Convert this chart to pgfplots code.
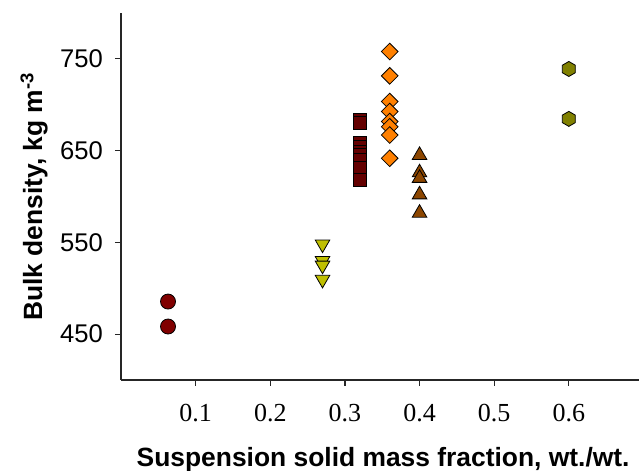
\documentclass[border=0pt]{standalone}
\usepackage{fontspec}
\setmainfont{Liberation Sans}
\newfontfamily\timesfont{Liberation Serif}
\usepackage{pgfplots}
\pgfplotsset{compat=1.18}
\definecolor{cCirc}{HTML}{800000}
\definecolor{cSq}{HTML}{640000}
\definecolor{cDown}{HTML}{BFBF00}
\definecolor{cDiam}{HTML}{FF8000}
\definecolor{cUp}{HTML}{8C4600}
\definecolor{cHex}{HTML}{808000}
\pgfdeclareplotmark{hexagon*}{%
  \pgfpathmoveto{\pgfqpointpolar{90}{\pgfplotmarksize}}%
  \pgfpathlineto{\pgfqpointpolar{150}{\pgfplotmarksize}}%
  \pgfpathlineto{\pgfqpointpolar{210}{\pgfplotmarksize}}%
  \pgfpathlineto{\pgfqpointpolar{270}{\pgfplotmarksize}}%
  \pgfpathlineto{\pgfqpointpolar{330}{\pgfplotmarksize}}%
  \pgfpathlineto{\pgfqpointpolar{30}{\pgfplotmarksize}}%
  \pgfpathclose
  \pgfusepathqfillstroke
}
\begin{document}
\begin{tikzpicture}
\useasboundingbox (-60.5pt,-45.5pt) rectangle (259pt,190pt);
\begin{axis}[
  at={(0,0)}, anchor=south west,
  scale only axis, width=259pt, height=183.5pt,
  xmin=0, xmax=0.694, ymin=400, ymax=800,
  axis lines=left,
  axis line style={-, black!85, line width=0.7pt},
  tick style={black!85, line width=0.6pt},
  tick align=outside, major tick length=3pt,
  xtick={0.1,0.2,0.3,0.4,0.5,0.6},
  ytick={450,550,650,750},
  /pgf/number format/assume math mode=true,
  xticklabel style={font=\timesfont\fontsize{13}{15}\selectfont, /pgf/number format/fixed, /pgf/number format/precision=1, yshift=-5.5pt},
  yticklabel style={font=\fontsize{12.8}{15}\selectfont, xshift=-2.5pt},
  xlabel={\bfseries Suspension solid mass fraction, wt./wt.},
  ylabel={\bfseries Bulk density, kg m\textsuperscript{-3}},
  label style={font=\fontsize{13.2}{15}\selectfont},
  xlabel style={at={(axis description cs:0.506,-0.237)}, anchor=base},
  ylabel style={at={(axis description cs:-0.1525,0.5)}, anchor=base},
  clip=false,
  every axis plot/.append style={only marks, mark options={draw=black, line width=0.5pt}},
]
\addplot[mark=*, mark size=3.75pt, mark options={fill=cCirc}] coordinates {
  (0.063,485.5) (0.063,458.3)
};
\addplot[mark=triangle*, mark size=4.2pt, mark options={fill=cDown, rotate=180}] coordinates {
  (0.27,548) (0.27,530) (0.27,525) (0.27,509.5)
};
\addplot[mark=square*, mark size=3.2pt, mark options={fill=cSq}] coordinates {
  (0.32,684) (0.32,680) (0.32,658) (0.32,654) (0.32,649) (0.32,645) (0.32,640) (0.32,631) (0.32,618)
};
\addplot[mark=square*, mark size=2.95pt, mark options={fill=cDiam, rotate=45}] coordinates {
  (0.36,758) (0.36,731.5) (0.36,703.5) (0.36,692.6) (0.36,681.7) (0.36,676) (0.36,667) (0.36,641.7)
};
\addplot[mark=triangle*, mark size=4.2pt, mark options={fill=cUp}] coordinates {
  (0.40,645) (0.40,626) (0.40,620) (0.40,602) (0.40,582)
};
\addplot[mark=hexagon*, mark size=3.75pt, mark options={fill=cHex}] coordinates {
  (0.60,739) (0.60,684.6)
};
\end{axis}
\end{tikzpicture}
\end{document}
